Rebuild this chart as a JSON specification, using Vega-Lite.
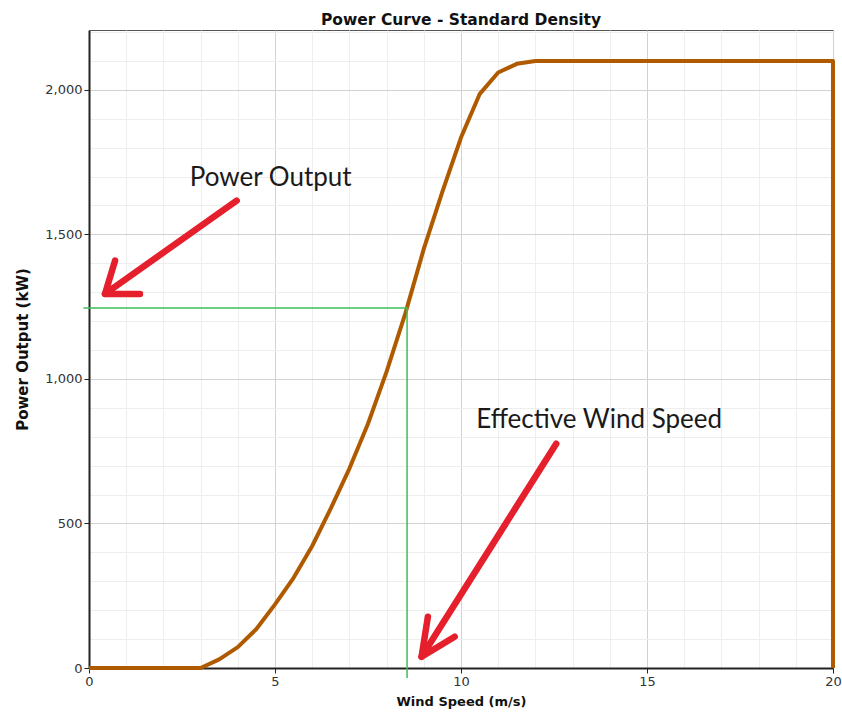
{
  "$schema": "https://vega.github.io/schema/vega-lite/v6.json",
  "width": 744,
  "height": 638,
  "autosize": "none",
  "padding": {"left": 89, "top": 30, "right": 9, "bottom": 44},
  "background": "white",
  "title": {"text": "Power Curve - Standard Density", "font": "DejaVu Sans", "fontSize": 15.5, "fontWeight": "bold", "color": "#111111", "offset": 2},
  "config": {"view": {"stroke": "#555555", "strokeWidth": 1}},
  "resolve": {"axis": {"x": "independent", "y": "independent"}},
  "datasets": {
    "curve": [
      {"ws": 0, "kw": 0, "i": 0},
      {"ws": 3, "kw": 0, "i": 1},
      {"ws": 3.5, "kw": 30, "i": 2},
      {"ws": 4, "kw": 72, "i": 3},
      {"ws": 4.5, "kw": 135, "i": 4},
      {"ws": 5, "kw": 220, "i": 5},
      {"ws": 5.5, "kw": 312, "i": 6},
      {"ws": 6, "kw": 422, "i": 7},
      {"ws": 6.5, "kw": 552, "i": 8},
      {"ws": 7, "kw": 690, "i": 9},
      {"ws": 7.5, "kw": 845, "i": 10},
      {"ws": 8, "kw": 1025, "i": 11},
      {"ws": 8.5, "kw": 1225, "i": 12},
      {"ws": 9, "kw": 1450, "i": 13},
      {"ws": 9.5, "kw": 1648, "i": 14},
      {"ws": 10, "kw": 1835, "i": 15},
      {"ws": 10.5, "kw": 1985, "i": 16},
      {"ws": 11, "kw": 2060, "i": 17},
      {"ws": 11.5, "kw": 2090, "i": 18},
      {"ws": 12, "kw": 2100, "i": 19},
      {"ws": 20, "kw": 2100, "i": 20},
      {"ws": 20, "kw": 0, "i": 21}
    ],
    "guide": [
      {"ws": -0.15, "kw": 1245, "i": 0},
      {"ws": 8.55, "kw": 1245, "i": 1},
      {"ws": 8.55, "kw": -35, "i": 2}
    ],
    "arrows": [
      {"a": "a1s", "ws": 3.97, "kw": 1617, "i": 0},
      {"a": "a1s", "ws": 0.43, "kw": 1294, "i": 1},
      {"a": "a1h", "ws": 0.70, "kw": 1409, "i": 0},
      {"a": "a1h", "ws": 0.43, "kw": 1294, "i": 1},
      {"a": "a1h", "ws": 1.37, "kw": 1294, "i": 2},
      {"a": "a2s", "ws": 12.56, "kw": 776, "i": 0},
      {"a": "a2s", "ws": 8.94, "kw": 39, "i": 1},
      {"a": "a2h", "ws": 9.11, "kw": 177, "i": 0},
      {"a": "a2h", "ws": 8.94, "kw": 39, "i": 1},
      {"a": "a2h", "ws": 9.83, "kw": 108, "i": 2}
    ],
    "notes": [
      {"ws": 2.71, "kw": 1696, "t": "Power Output"},
      {"ws": 10.41, "kw": 857, "t": "Effective Wind Speed"}
    ]
  },
  "layer": [
    {
      "data": {"name": "curve"},
      "mark": {"type": "line", "color": "#B05A00", "strokeWidth": 4, "strokeJoin": "round"},
      "encoding": {
        "x": {
          "field": "ws", "type": "quantitative",
          "scale": {"domain": [0, 20], "nice": false, "zero": false},
          "axis": {
            "orient": "top",
            "values": [1,2,3,4,6,7,8,9,11,12,13,14,16,17,18,19],
            "labels": false, "ticks": false, "domain": false, "title": null,
            "grid": true, "gridColor": "#eeeeee", "gridWidth": 1
          }
        },
        "y": {
          "field": "kw", "type": "quantitative",
          "scale": {"domain": [0, 2207], "nice": false, "zero": false},
          "axis": {
            "orient": "right",
            "values": [100,200,300,400,600,700,800,900,1100,1200,1300,1400,1600,1700,1800,1900,2100,2200],
            "labels": false, "ticks": false, "domain": false, "title": null,
            "grid": true, "gridColor": "#eeeeee", "gridWidth": 1
          }
        },
        "order": {"field": "i", "type": "quantitative"}
      }
    },
    {
      "data": {"name": "guide"},
      "mark": {"type": "line", "color": "#3DBE5A", "strokeWidth": 1.5},
      "encoding": {
        "x": {
          "field": "ws", "type": "quantitative",
          "axis": {
            "orient": "bottom",
            "values": [0, 5, 10, 15, 20],
            "format": "d",
            "labelOverlap": false,
            "labelFlush": false,
            "grid": true, "gridColor": "#d2d2d2",
            "tickColor": "#222222", "tickSize": 5,
            "domainColor": "#222222", "domainWidth": 2,
            "labelFont": "DejaVu Sans", "labelFontSize": 13, "labelColor": "#333333", "labelPadding": 2,
            "title": "Wind Speed (m/s)", "titleFont": "DejaVu Sans", "titleFontSize": 13, "titleFontWeight": "bold", "titleColor": "#111111", "titlePadding": 7
          }
        },
        "y": {
          "field": "kw", "type": "quantitative",
          "axis": {
            "orient": "left",
            "values": [0, 500, 1000, 1500, 2000],
            "labelExpr": "format(datum.value, ',')",
            "labelOverlap": false,
            "labelFlush": false,
            "grid": true, "gridColor": "#d2d2d2",
            "tickColor": "#222222", "tickSize": 5,
            "domainColor": "#222222", "domainWidth": 2,
            "labelFont": "DejaVu Sans", "labelFontSize": 13, "labelColor": "#333333", "labelPadding": 2,
            "title": "Power Output (kW)", "titleFont": "DejaVu Sans", "titleFontSize": 15, "titleFontWeight": "bold", "titleColor": "#111111", "titlePadding": 14
          }
        },
        "order": {"field": "i", "type": "quantitative"}
      }
    },
    {
      "data": {"name": "arrows"},
      "mark": {"type": "line", "color": "#E51F2B", "strokeWidth": 6.5, "strokeCap": "round", "strokeJoin": "round"},
      "encoding": {
        "x": {"field": "ws", "type": "quantitative", "axis": null},
        "y": {"field": "kw", "type": "quantitative", "axis": null},
        "detail": {"field": "a", "type": "nominal"},
        "order": {"field": "i", "type": "quantitative"}
      }
    },
    {
      "data": {"name": "notes"},
      "mark": {"type": "text", "align": "left", "baseline": "middle", "font": "Lato", "fontSize": 26, "color": "#1a1a1a"},
      "encoding": {
        "x": {"field": "ws", "type": "quantitative", "axis": null},
        "y": {"field": "kw", "type": "quantitative", "axis": null},
        "text": {"field": "t", "type": "nominal"}
      }
    }
  ]
}
